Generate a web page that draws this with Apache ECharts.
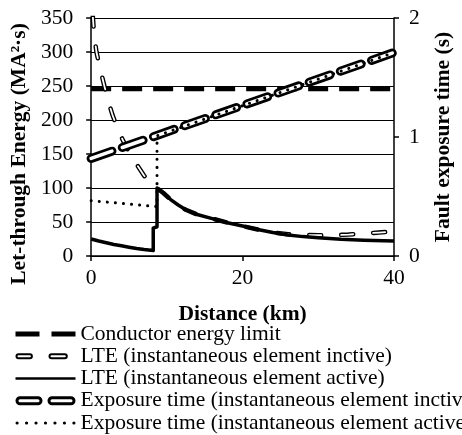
<!DOCTYPE html>
<html><head><meta charset="utf-8">
<script src="https://cdn.jsdelivr.net/npm/echarts@6/dist/echarts.min.js"></script>
<style>html,body{margin:0;padding:0;background:#fff}#c{width:462px;height:435px}</style>
</head><body><div id="c"></div>
<script>
// ---- data ----
const seriesNames = [
  'Conductor energy limit',
  'LTE (instantaneous element inctive)',
  'LTE (instantaneous element active)',
  'Exposure time (instantaneous element inctive)',
  'Exposure time (instantaneous element active)'
];
const xAxisTitle = 'Distance (km)';
const yLeftTitle = 'Let-through Energy (MA²·s)';
const yRightTitle = 'Fault exposure time (s)';
const xRange = [0, 40, 20];        // min, max, interval
const yLeftRange = [0, 350, 50];
const yRightRange = [0, 2, 1];

const conductorLimit = [[0, 246], [40, 246]];
const lteInactive = [
  [0.2, 355], [0.4, 325], [0.7, 300], [1.2, 275], [1.7, 252], [2.2, 230], [2.8, 208],
  [3.5, 187], [4.2, 170], [5, 153], [6, 135], [7, 118], [8, 106], [8.7, 100],
  [9.5, 93], [10.5, 83], [11.5, 75], [12.5, 68], [14, 61], [16, 55], [18, 49],
  [20, 44], [22, 39], [24, 34.5], [26, 32], [28, 31], [30, 30.5], [32, 30.7],
  [34, 31.5], [36, 33], [38, 34.5], [40, 36]
];
const lteActive = [
  [0, 25], [1, 22], [2, 19.5], [3, 17], [4, 15], [5, 13], [6, 11], [7, 9.5], [8.2, 8],
  [8.2, 41], [8.7, 43], [8.7, 100], [9.5, 93], [10.5, 83], [11.5, 75], [12.5, 68],
  [14, 61], [16, 55], [18, 49], [20, 44], [22, 39], [24, 34.5], [26, 31], [28, 28.5],
  [30, 27], [33, 24.7], [36, 23.3], [40, 22]
];
const exposureInactive = [[0, 0.82], [40, 1.71]];
const exposureActive = [[0, 0.465], [8.7, 0.415], [8.7, 1.01], [40, 1.71]];

// ---- styling ----
const FONT = "'Liberation Serif', 'Times New Roman', serif";
const FS = 21.5;
const W = 60, H = 10;
function capsule(x0, x1, y0, y1) {
  const r = (y1 - y0) / 2;
  return `M${x0 + r},${y0}L${x1 - r},${y0}A${r},${r},0,0,1,${x1 - r},${y1}L${x0 + r},${y1}A${r},${r},0,0,1,${x0 + r},${y0}Z`;
}
function rect(x0, x1, y0, y1) { return `M${x0},${y0}L${x1},${y0}L${x1},${y1}L${x0},${y1}Z`; }
function dot(cx, cy, r) { return `M${cx - r},${cy}A${r},${r},0,1,0,${cx + r},${cy}A${r},${r},0,1,0,${cx - r},${cy}Z`; }
const anchor = `M0,0M${W},${H}`;
const icons = [
  'path://' + anchor + rect(0, 24, 2.5, 7.5) + rect(36, 60, 2.5, 7.5),
  'path://' + anchor + capsule(1, 16.4, 3, 7) + capsule(34, 51.3, 3, 7),
  'path://' + anchor + rect(0, 60, 3.75, 6.25),
  'path://' + anchor + capsule(1.5, 25.5, 2, 8) + capsule(33.5, 58.5, 2, 8),
  'path://' + anchor + [0, 1, 2, 3, 4, 5, 6].map(i => dot(1.6 + i * 56.8 / 6, 5, 1.6)).join('')
];
const solidIcon = { color: '#000', borderWidth: 0, opacity: 1 };
const legendData = [
  { name: seriesNames[0], icon: icons[0], itemStyle: solidIcon },
  { name: seriesNames[1], icon: icons[1], itemStyle: { color: '#fff', borderColor: '#000', borderWidth: 2, borderType: 'solid', opacity: 1 } },
  { name: seriesNames[2], icon: icons[2], itemStyle: solidIcon },
  { name: seriesNames[3], icon: icons[3], itemStyle: { color: '#fff', borderColor: '#000', borderWidth: 3, borderType: 'solid', opacity: 1 } },
  { name: seriesNames[4], icon: icons[4], itemStyle: solidIcon }
];

const axisCommon = {
  axisLine: { show: true, onZero: false, lineStyle: { color: '#000', width: 1.5 } },
  axisTick: { show: true, length: 5, lineStyle: { color: '#000', width: 1.5 } },
  axisLabel: { color: '#000', fontSize: FS, fontFamily: FONT },
  nameTextStyle: { color: '#000', fontSize: FS, fontFamily: FONT, fontWeight: 'bold' }
};

const chart = echarts.init(document.getElementById('c'), null, { renderer: 'canvas' });
chart.setOption({
  animation: false,
  backgroundColor: '#fff',
  grid: { left: 90, right: 60, top: 18, bottom: 179, containLabel: false },
  legend: {
    orient: 'vertical', left: 14, top: 323, padding: 0,
    itemWidth: W, itemHeight: H, itemGap: 0.25,
    textStyle: { color: '#000', fontSize: FS, fontFamily: FONT, lineHeight: 21 },
    selectedMode: false,
    data: legendData
  },
  xAxis: Object.assign({}, axisCommon, {
    type: 'value', min: xRange[0], max: xRange[1], interval: xRange[2],
    splitLine: { show: false },
    axisLabel: Object.assign({}, axisCommon.axisLabel, { margin: 11 }),
    name: xAxisTitle, nameLocation: 'middle', nameGap: 47
  }),
  yAxis: [
    Object.assign({}, axisCommon, {
      type: 'value', position: 'left', min: yLeftRange[0], max: yLeftRange[1], interval: yLeftRange[2],
      splitLine: { show: true, lineStyle: { color: '#000', width: 1 } },
      axisLabel: Object.assign({}, axisCommon.axisLabel, { margin: 18 }),
      name: yLeftTitle, nameLocation: 'middle', nameRotate: 90, nameGap: 55,
      nameTextStyle: Object.assign({}, axisCommon.nameTextStyle, { padding: [0, 34, 0, 0] })
    }),
    Object.assign({}, axisCommon, {
      type: 'value', position: 'right', min: yRightRange[0], max: yRightRange[1], interval: yRightRange[2],
      splitLine: { show: false },
      axisLabel: Object.assign({}, axisCommon.axisLabel, { margin: 15 }),
      name: yRightTitle, nameLocation: 'middle', nameRotate: 90, nameGap: 38
    })
  ],
  series: [
    { name: seriesNames[0], type: 'line', yAxisIndex: 0, data: conductorLimit, symbol: 'none',
      lineStyle: { color: '#000', width: 5, type: [20, 11], cap: 'butt' }, itemStyle: { color: '#000' } },
    { name: seriesNames[1], type: 'line', yAxisIndex: 0, data: lteInactive, symbol: 'none',
      lineStyle: { color: '#000', width: 4.5, type: [12, 20], cap: 'round', join: 'round' }, itemStyle: { color: '#000' } },
    { name: 'lte-inactive-inner', type: 'line', yAxisIndex: 0, data: lteInactive, symbol: 'none', silent: true,
      lineStyle: { color: '#fff', width: 1.8, type: [12, 20], cap: 'round', join: 'round' }, itemStyle: { color: '#fff' } },
    { name: seriesNames[2], type: 'line', yAxisIndex: 0, data: lteActive, symbol: 'none',
      lineStyle: { color: '#000', width: 3.5, join: 'round' }, itemStyle: { color: '#000' } },
    { name: seriesNames[3], type: 'line', yAxisIndex: 1, data: exposureInactive, symbol: 'none',
      lineStyle: { color: '#000', width: 9, type: [22, 11], cap: 'round' }, itemStyle: { color: '#000' } },
    { name: 'exposure-inactive-inner', type: 'line', yAxisIndex: 1, data: exposureInactive, symbol: 'none', silent: true,
      lineStyle: { color: '#fff', width: 3.5, type: [22, 11], cap: 'round' }, itemStyle: { color: '#fff' } },
    { name: seriesNames[4], type: 'line', yAxisIndex: 1, data: exposureActive, symbol: 'none',
      lineStyle: { color: '#000', width: 3, type: [0.1, 8], cap: 'round' }, itemStyle: { color: '#000' } }
  ]
});
</script>
</body></html>
